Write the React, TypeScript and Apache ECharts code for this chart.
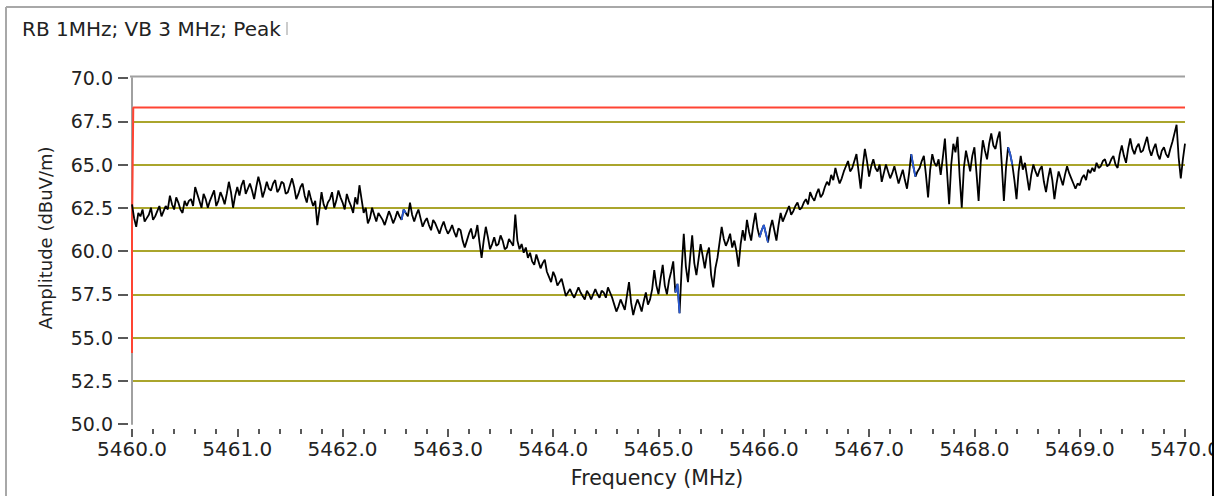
import React, { useEffect, useRef } from "react";
import * as echarts from "echarts";

const TITLE = "RB 1MHz; VB 3 MHz; Peak";
const Y_NAME = "Amplitude (dBuV/m)";
const X_NAME = "Frequency (MHz)";

const F_START = 5460;
const F_STEP = 0.02;

const amp5460 = [62.7, 61.9, 61.4, 62.2, 62.0, 62.4, 61.7, 61.9, 62.1, 62.5, 61.8, 62.0, 62.3, 62.6, 62.0, 62.3, 62.6, 62.4, 63.2, 62.7, 62.4, 63.1, 62.8, 62.4, 62.2, 62.9, 62.6, 62.9, 63.0, 62.6, 63.7, 63.3, 62.9, 62.5, 63.3, 63.0, 62.5, 62.9, 63.2, 63.5, 62.6, 62.9, 63.4, 63.1, 62.7, 63.3, 64.0, 63.4, 62.5, 63.2];
const amp5461 = [63.7, 63.2, 63.8, 64.1, 63.3, 63.6, 63.9, 63.5, 63.0, 63.7, 64.3, 63.8, 63.1, 63.5, 64.0, 63.6, 63.5, 63.9, 64.1, 63.4, 63.6, 64.0, 63.9, 63.3, 63.4, 63.8, 64.2, 63.7, 63.0, 63.3, 63.7, 63.9, 63.2, 62.8, 63.5, 63.0, 62.6, 62.9, 61.5, 62.4, 63.4, 62.7, 62.4, 62.8, 63.0, 63.4, 62.5, 62.9, 63.5, 63.1];
const amp5462 = [62.8, 62.4, 63.3, 62.9, 62.6, 62.2, 63.1, 62.7, 63.8, 63.0, 62.2, 62.5, 61.6, 61.9, 62.5, 62.1, 61.7, 62.2, 62.0, 61.8, 61.5, 61.9, 62.3, 62.0, 61.6, 61.9, 62.3, 62.0, 61.8, 62.4, 62.2, 62.0, 62.8, 62.1, 61.7, 62.1, 62.4, 61.9, 61.4, 61.7, 61.9, 61.5, 61.2, 61.8, 61.6, 61.3, 61.0, 61.4, 61.7, 61.3];
const amp5463 = [61.0, 61.2, 61.5, 61.1, 60.8, 61.3, 61.2, 60.6, 60.2, 60.6, 61.0, 61.3, 60.7, 60.9, 61.5, 60.5, 59.6, 60.6, 61.4, 60.8, 60.1, 60.4, 60.8, 60.3, 60.4, 60.9, 60.6, 60.1, 60.2, 60.7, 60.5, 60.3, 62.1, 60.6, 60.1, 60.4, 59.9, 60.2, 59.6, 59.9, 59.4, 59.2, 59.8, 59.4, 59.0, 59.3, 59.5, 58.8, 58.5, 58.2];
const amp5464 = [58.8, 58.5, 58.0, 58.2, 58.4, 57.9, 57.4, 57.6, 57.8, 57.5, 57.3, 57.6, 57.9, 57.6, 57.4, 57.2, 57.7, 57.5, 57.2, 57.5, 57.8, 57.5, 57.3, 57.7, 57.6, 57.3, 57.9, 57.6, 57.3, 56.9, 56.5, 56.8, 57.2, 56.9, 56.6, 57.4, 58.2, 57.0, 56.3, 56.8, 57.2, 56.9, 56.5, 57.1, 57.6, 56.9, 57.2, 57.8, 58.9, 58.0];
const amp5465 = [57.5, 58.4, 59.2, 58.0, 57.5, 58.3, 58.8, 59.4, 57.6, 58.1, 56.4, 59.0, 61.0, 59.1, 58.2, 59.6, 60.9, 59.3, 58.6, 59.5, 60.4, 59.7, 59.0, 59.8, 60.2, 58.6, 57.9, 59.0, 59.6, 60.5, 61.4, 60.7, 60.3, 60.6, 61.0, 60.2, 60.6, 60.0, 59.1, 60.4, 61.2, 60.6, 61.8, 61.1, 60.6, 61.5, 62.2, 61.3, 60.8, 61.2];
const amp5466 = [61.5, 61.0, 60.5, 61.3, 61.8, 61.2, 60.6, 61.5, 62.2, 61.7, 62.0, 62.3, 62.6, 62.1, 62.3, 62.6, 62.8, 62.4, 62.5, 62.8, 63.0, 62.7, 63.4, 63.1, 62.9, 63.3, 63.6, 63.1, 63.3, 63.7, 64.0, 63.8, 64.4, 64.1, 64.8, 64.3, 63.9, 64.2, 64.6, 64.9, 65.2, 64.6, 64.8, 65.2, 65.6, 64.6, 63.6, 64.9, 65.9, 65.2];
const amp5467 = [64.3, 64.9, 65.3, 64.8, 64.6, 65.0, 64.0, 64.5, 65.0, 64.6, 64.2, 64.5, 64.9, 64.4, 63.9, 64.3, 64.7, 64.1, 63.6, 64.5, 65.6, 64.9, 64.3, 64.6, 64.8, 65.2, 65.5, 64.4, 63.1, 64.7, 65.6, 65.1, 64.9, 65.3, 64.4, 65.4, 66.5, 64.6, 62.7, 65.0, 66.2, 65.7, 66.6, 64.3, 62.5, 64.8, 65.8, 65.2, 64.6, 65.5];
const amp5468 = [66.0, 64.5, 62.9, 65.1, 66.4, 65.8, 65.3, 66.2, 66.8, 66.1, 65.9, 66.5, 66.9, 65.0, 62.9, 64.8, 66.0, 65.6, 65.0, 64.1, 63.0, 64.6, 65.5, 64.7, 65.1, 64.3, 63.5, 64.4, 65.0, 64.6, 64.3, 64.7, 64.9, 64.0, 63.4, 64.2, 64.8, 64.1, 63.0, 63.9, 64.6, 64.2, 63.8, 64.4, 64.9, 64.5, 64.2, 63.9, 63.6, 63.9];
const amp5469 = [63.8, 64.2, 64.4, 64.1, 64.7, 64.5, 64.8, 64.6, 65.1, 64.8, 64.9, 65.2, 65.3, 64.9, 65.0, 65.3, 65.5, 65.0, 64.8, 65.6, 66.1, 65.5, 65.1, 65.9, 66.5, 65.9, 65.6, 66.0, 66.2, 65.7, 65.8, 66.2, 66.6, 65.9, 65.5, 65.9, 66.2, 65.6, 65.3, 65.8, 66.0, 65.6, 65.4, 65.9, 66.3, 66.8, 67.3, 65.4, 64.2, 65.3, 66.2];

const amplitude = [
  ...amp5460, ...amp5461, ...amp5462, ...amp5463, ...amp5464,
  ...amp5465, ...amp5466, ...amp5467, ...amp5468, ...amp5469,
];

const blueIndices = [128, 129, 130, 258, 259, 260, 298, 299, 300, 301, 302, 370, 371, 372, 416, 417, 418];

const limitLine = [
  [5460.0, 54.1],
  [5460.0, 61.2],
  [5460.012, 68.3],
  [5470.0, 68.3],
];

const yTicks = [50, 52.5, 55, 57.5, 60, 62.5, 65, 67.5, 70];

const OLIVE = "#aaa52c";
const TEXT = "#222222";
const FONT = "DejaVu Sans";

export default function App() {
  const ref = useRef<HTMLDivElement>(null);

  useEffect(() => {
    if (!ref.current) return;
    const chart = echarts.init(ref.current, undefined, { renderer: "svg" });

    const trace = amplitude.map((v, i) => [+(F_START + i * F_STEP).toFixed(2), v]);
    const blue = amplitude.map((v, i) => [
      +(F_START + i * F_STEP).toFixed(2),
      blueIndices.includes(i) ? v : null,
    ]);

    const splitColors = yTicks.map((t, i) =>
      i === 0 || i === yTicks.length - 1 ? "rgba(0,0,0,0)" : OLIVE
    );

    const option: any = {
      animation: false,
      backgroundColor: "#ffffff",
      textStyle: { fontFamily: FONT },
      grid: { left: 132, right: 40, top: 78, bottom: 72, containLabel: false },
      xAxis: {
        type: "value",
        min: 5460,
        max: 5470,
        interval: 1,
        offset: 5,
        axisLine: { show: false },
        axisTick: { show: true, length: 8, lineStyle: { color: TEXT, width: 1.5 } },
        minorTick: { show: true, splitNumber: 5, length: 5, lineStyle: { color: TEXT, width: 1.5 } },
        splitLine: { show: false },
        axisLabel: {
          formatter: (v: number) => v.toFixed(1),
          color: TEXT,
          fontSize: 20,
          fontFamily: FONT,
          margin: 10,
        },
      },
      yAxis: [
        {
          type: "value",
          min: 50,
          max: 70,
          interval: 2.5,
          axisLine: { show: true, lineStyle: { color: "#a0a0a0", width: 2 } },
          axisTick: { show: false },
          axisLabel: { show: false },
          splitLine: { show: true, lineStyle: { color: splitColors, width: 2 } },
        },
        {
          type: "value",
          position: "left",
          min: 50,
          max: 70,
          interval: 2.5,
          offset: 4,
          axisLine: { show: false },
          axisTick: { show: true, length: 10, lineStyle: { color: TEXT, width: 1.5 } },
          axisLabel: {
            formatter: (v: number) => v.toFixed(1),
            color: TEXT,
            fontSize: 19,
            fontFamily: FONT,
            margin: 15,
          },
          splitLine: { show: false },
        },
      ],
      series: [
        {
          type: "line",
          data: limitLine,
          symbol: "none",
          lineStyle: { color: "#ff4433", width: 2 },
          z: 2,
        },
        {
          type: "line",
          data: trace,
          symbol: "none",
          lineStyle: { color: "#000000", width: 1.8 },
          z: 3,
        },
        {
          type: "line",
          data: blue,
          symbol: "none",
          connectNulls: false,
          lineStyle: { color: "#2a5bd7", width: 1.8 },
          z: 4,
        },
      ],
      graphic: [
        { type: "line", shape: { x1: 6, y1: 7, x2: 6, y2: 496 }, style: { stroke: "#a8a8a8", lineWidth: 2 }, z: 10 },
        { type: "line", shape: { x1: 6, y1: 7, x2: 1213, y2: 7 }, style: { stroke: "#a8a8a8", lineWidth: 2 }, z: 10 },
        { type: "line", shape: { x1: 130, y1: 76.5, x2: 1185, y2: 76.5 }, style: { stroke: "#a0a0a0", lineWidth: 2 }, z: 10 },
        { type: "rect", shape: { x: 1214, y: 0, width: 11, height: 496 }, style: { fill: "#ffffff" }, z: 20 },
        { type: "line", shape: { x1: 1213, y1: 0, x2: 1213, y2: 496 }, style: { stroke: "#000000", lineWidth: 2 }, z: 21 },
        {
          type: "text",
          x: 22,
          y: 29,
          style: { text: TITLE, fill: TEXT, fontSize: 20, fontFamily: FONT, align: "left", verticalAlign: "middle" },
          z: 10,
        },
        { type: "rect", shape: { x: 286, y: 22, width: 2, height: 13 }, style: { fill: "#cccccc" }, z: 10 },
        {
          type: "text",
          x: 45,
          y: 238,
          rotation: Math.PI / 2,
          style: { text: Y_NAME, fill: TEXT, fontSize: 18, fontFamily: FONT, align: "center", verticalAlign: "middle" },
          z: 10,
        },
        {
          type: "text",
          x: 657,
          y: 478,
          style: { text: X_NAME, fill: TEXT, fontSize: 20.5, fontFamily: FONT, align: "center", verticalAlign: "middle" },
          z: 10,
        },
      ],
    };

    chart.setOption(option);
    return () => chart.dispose();
  }, []);

  return (
    <div
      ref={ref}
      style={{ position: "absolute", left: 0, top: 0, width: 1225, height: 496 }}
    />
  );
}
